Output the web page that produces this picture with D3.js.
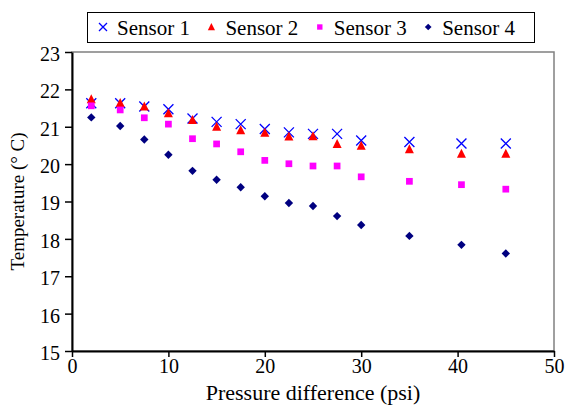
<!DOCTYPE html>
<html>
<head>
<meta charset="utf-8">
<script src="https://cdn.jsdelivr.net/npm/d3@7"></script>
<style>
  body { margin: 0; background: #fff; }
  svg text { font-family: "Liberation Serif", serif; }
</style>
</head>
<body>
<div id="chart"></div>
<script>
// pressure difference (psi)
const pressure = [2, 5, 7.5, 10, 12.5, 15, 17.5, 20, 22.5, 25, 27.5, 30, 35, 40.4, 45];
// temperatures (°C)
const sensor1 = [21.63, 21.63, 21.54, 21.47, 21.22, 21.13, 21.07, 20.94, 20.85, 20.81, 20.81, 20.63, 20.59, 20.55, 20.55];
const sensor2 = [21.74, 21.64, 21.54, 21.36, 21.18, 21.0, 20.91, 20.84, 20.74, 20.75, 20.54, 20.49, 20.40, 20.28, 20.28];
const sensor3 = [21.56, 21.45, 21.24, 21.07, 20.68, 20.54, 20.33, 20.10, 20.01, 19.95, 19.95, 19.66, 19.54, 19.45, 19.33];
const sensor4 = [21.25, 21.02, 20.66, 20.25, 19.82, 19.58, 19.38, 19.14, 18.96, 18.88, 18.61, 18.37, 18.08, 17.84, 17.61];
const seriesNames = ["Sensor 1", "Sensor 2", "Sensor 3", "Sensor 4"];
const xTicks = [0, 10, 20, 30, 40, 50];
const yTicks = [15, 16, 17, 18, 19, 20, 21, 22, 23];

const width = 568, height = 405;
const margin = {top: 52, right: 14, bottom: 54, left: 72};

const series = [
  {name: seriesNames[0], values: sensor1, shape: "cross", color: "#0000ff"},
  {name: seriesNames[1], values: sensor2, shape: "triangle", color: "#ff0000"},
  {name: seriesNames[2], values: sensor3, shape: "square", color: "#ff00ff"},
  {name: seriesNames[3], values: sensor4, shape: "diamond", color: "#000080"}
];

const svg = d3.select("#chart").append("svg")
    .attr("width", width)
    .attr("height", height);

const x = d3.scaleLinear().domain([0, 50]).range([margin.left, width - margin.right]);
const y = d3.scaleLinear().domain([15, 23]).range([height - margin.bottom, margin.top]);

// plot area border (grey) on top / right
svg.append("rect")
    .attr("x", x(0))
    .attr("y", y(23))
    .attr("width", x(50) - x(0))
    .attr("height", y(15) - y(23))
    .attr("fill", "none")
    .attr("stroke", "#808080")
    .attr("stroke-width", 1.5);

const xAxis = svg.append("g")
    .attr("transform", `translate(0,${y(15)})`)
    .call(d3.axisBottom(x).tickValues(xTicks).tickSize(6).tickSizeOuter(0).tickFormat(d3.format("d")));

const yAxis = svg.append("g")
    .attr("transform", `translate(${x(0)},0)`)
    .call(d3.axisLeft(y).tickValues(yTicks).tickSize(7).tickSizeOuter(0).tickFormat(d3.format("d")));

[xAxis, yAxis].forEach(g => {
  g.select(".domain").attr("stroke", "#000").attr("stroke-width", 2);
  g.selectAll(".tick line").attr("stroke", "#000").attr("stroke-width", 1.5);
  g.selectAll(".tick text")
    .attr("fill", "#000")
    .style("font-family", '"Liberation Serif"')
    .style("font-size", "20px");
});
xAxis.selectAll(".tick text").attr("y", 8).attr("dy", "0.71em");
yAxis.selectAll(".tick text").attr("x", -12).attr("dy", "0.42em");

// axis titles
svg.append("text")
    .attr("x", (x(0) + x(50)) / 2)
    .attr("y", 400)
    .attr("text-anchor", "middle")
    .style("font-family", '"Liberation Serif"')
    .style("font-size", "22px")
    .text("Pressure difference (psi)");

svg.append("text")
    .attr("transform", `translate(24,${(y(15) + y(23)) / 2}) rotate(-90)`)
    .attr("text-anchor", "middle")
    .style("font-family", '"Liberation Serif"')
    .style("font-size", "19px")
    .text("Temperature (° C)");

function drawMarker(g, shape, color, s) {
  if (shape === "cross") {
    g.append("path")
      .attr("d", `M${-s},${-s}L${s},${s}M${-s},${s}L${s},${-s}`)
      .attr("stroke", color).attr("stroke-width", 1.3).attr("fill", "none");
  } else if (shape === "triangle") {
    g.append("path")
      .attr("d", `M0,${-s * 1.1}L${s},${s * 0.9}L${-s},${s * 0.9}Z`)
      .attr("fill", color);
  } else if (shape === "square") {
    g.append("rect")
      .attr("x", -s * 0.8).attr("y", -s * 0.8)
      .attr("width", s * 1.6).attr("height", s * 1.6)
      .attr("fill", color);
  } else {
    g.append("path")
      .attr("d", `M0,${-s}L${s},0L0,${s}L${-s},0Z`)
      .attr("fill", color);
  }
}

const sizes = {cross: 5, triangle: 4.5, square: 4.2, diamond: 4.2};

series.forEach(sr => {
  const grp = svg.append("g");
  sr.values.forEach((v, i) => {
    const m = grp.append("g").attr("transform", `translate(${x(pressure[i])},${y(v)})`);
    drawMarker(m, sr.shape, sr.color, sizes[sr.shape]);
  });
});

// legend
const legend = svg.append("g");
legend.append("rect")
    .attr("x", 87.5).attr("y", 12.5)
    .attr("width", 447).attr("height", 30)
    .attr("fill", "#fff")
    .attr("stroke", "#000")
    .attr("stroke-width", 1);

series.forEach((sr, i) => {
  const lx = 103 + i * 108.4;
  const m = legend.append("g").attr("transform", `translate(${lx},27)`);
  drawMarker(m, sr.shape, sr.color, sizes[sr.shape] * 0.8);
  legend.append("text")
      .attr("x", lx + 14)
      .attr("y", 35)
      .style("font-family", '"Liberation Serif"')
      .style("font-size", "21px")
      .text(sr.name);
});
</script>
</body>
</html>
